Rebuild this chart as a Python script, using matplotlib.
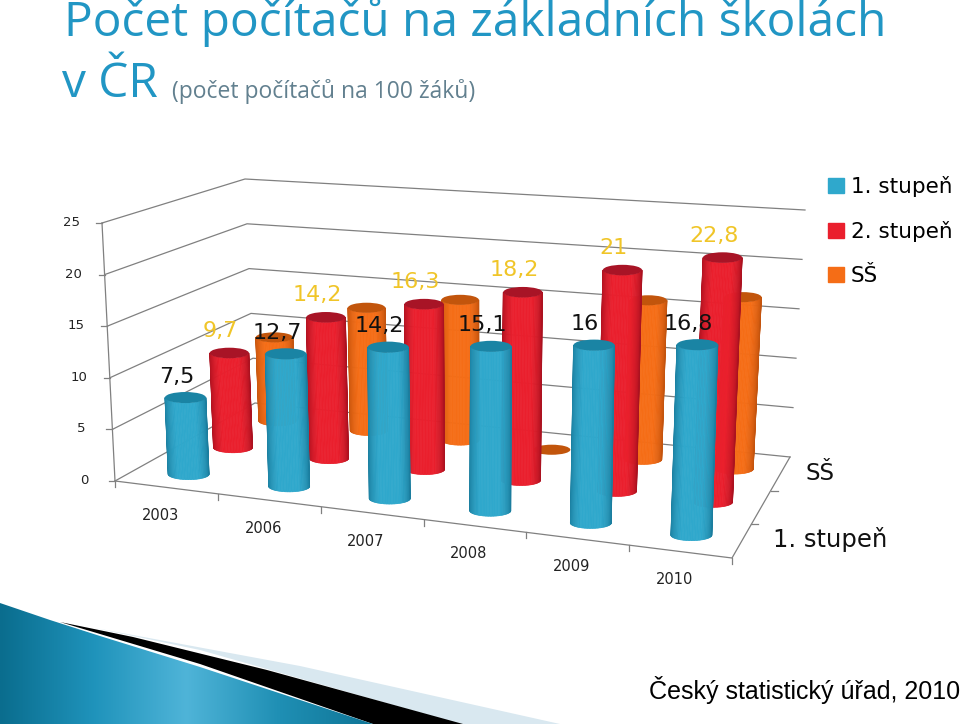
import matplotlib
matplotlib.use('Agg')
import matplotlib.pyplot as plt
import numpy as np
from matplotlib.collections import PolyCollection
from matplotlib.colors import LinearSegmentedColormap
from matplotlib.patches import Ellipse, Patch, Polygon

years = ['2003', '2006', '2007', '2008', '2009', '2010']
series_names = ['1. stupeň', '2. stupeň', 'SŠ']
first_grade = [7.5, 12.7, 14.2, 15.1, 16, 16.8]
second_grade = [9.7, 14.2, 16.3, 18.2, 21, 22.8]
high_school = [9, 13, 14.6, 0, 16, 17]
first_labels = ['7,5', '12,7', '14,2', '15,1', '16', '16,8']
second_labels = ['9,7', '14,2', '16,3', '18,2', '21', '22,8']
value_ticks = [0, 5, 10, 15, 20, 25]

colors = {
    'blue': ('#1b7d9e', '#2fa8cc', '#1a84a4'),
    'red': ('#ab1220', '#ea1f2d', '#a81426'),
    'orange': ('#c4540e', '#f56d16', '#c2550c'),
}

# corners of the 3d box in pixels: floor and the offset up to z=25
FL, FR = np.array([115., 481.]), np.array([732., 558.])
BL, BR = np.array([255., 403.]), np.array([790., 457.])
UP_FL, UP_FR = np.array([-13., -258.]), np.array([10., -294.])
UP_BL, UP_BR = np.array([-10., -224.]), np.array([15., -247.])


def project(u, v, z):
    floor = (1-v)*((1-u)*FL + u*FR) + v*((1-u)*BL + u*BR)
    up = (1-v)*((1-u)*UP_FL + u*UP_FR) + v*((1-u)*UP_BL + u*UP_BR)
    return floor + up*z/25.0


def cylinder(ax, i, row, value, cols, zorder):
    u = (i+0.5)/6
    v = (row+0.5)/3
    bx, by = project(u, v, 0)
    tx, ty = project(u, v, value)
    r = (project(u+0.034, v, 0)[0] - project(u-0.034, v, 0)[0])/2
    rb = 0.27*r
    if value > 0:
        cmap = LinearSegmentedColormap.from_list('c', [cols[0], cols[1], cols[1], cols[0]])
        th = np.linspace(np.pi, 0, 41)
        polys = []
        for a, b in zip(th[:-1], th[1:]):
            polys.append([(bx+r*np.cos(a), by+rb*np.sin(a)), (bx+r*np.cos(b), by+rb*np.sin(b)),
                          (tx+r*np.cos(b), ty+rb*np.sin(b)), (tx+r*np.cos(a), ty+rb*np.sin(a))])
        shade = cmap(np.linspace(0, 1, 40))
        ax.add_collection(PolyCollection(polys, facecolors=shade, edgecolors=shade, linewidths=0.5, zorder=zorder))
    ax.add_patch(Ellipse((tx, ty), 2*r, 2*rb, facecolor=cols[2], edgecolor='none', zorder=zorder+0.1))
    return tx, ty


fig = plt.figure(figsize=(9.6, 7.24), dpi=100)
ax = fig.add_axes([0, 0, 1, 1])
ax.set_xlim(0, 960)
ax.set_ylim(724, 0)
ax.axis('off')

# title
ax.text(64, 22, 'Počet počítačů na základních školách', family='Open Sans', fontsize=34.5,
        color='#2196c4', va='center', ha='left')
ax.text(62, 84, 'v ČR', family='Open Sans', fontsize=34.5, color='#2196c4', va='center', ha='left')
ax.text(172, 92, '(počet počítačů na 100 žáků)', family='Open Sans', fontsize=16.5, color='#62808f',
        va='center', ha='left')

# walls
grid = '#808080'
for z in value_ticks:
    pts = np.array([project(0, 0, z), project(0, 1, z), project(1, 1, z)])
    ax.plot(pts[:, 0], pts[:, 1], color=grid, lw=0.9, zorder=1)
    p = project(0, 0, z)
    ax.plot([p[0]-6, p[0]], [p[1], p[1]], color=grid, lw=0.9, zorder=1)
    ax.text(p[0]-31, p[1]-0.5, str(z), fontsize=9.5, color='#222222', ha='center', va='center')
edge = np.array([project(0, 0, 0), project(0, 0, 25)])
ax.plot(edge[:, 0], edge[:, 1], color=grid, lw=0.9, zorder=1)
edge = np.array([FL, FR, BR])
ax.plot(edge[:, 0], edge[:, 1], color=grid, lw=0.9, zorder=1)
for i in range(7):
    p = project(i/6, 0, 0)
    ax.plot([p[0], p[0]], [p[1], p[1]+6], color=grid, lw=0.9, zorder=1)
for k in range(1, 3):
    p = project(1, k/3, 0)
    ax.plot([p[0], p[0]+7], [p[1], p[1]], color=grid, lw=0.9, zorder=1)

for i, year in enumerate(years):
    p = project((i+0.5)/6, 0, 0)
    ax.text(p[0]-6, p[1]+28, year, fontsize=10.5, color='#222222', ha='center', va='center')
ax.text(820, 473, series_names[2], fontsize=16.5, color='#111111', ha='center', va='center')
ax.text(830, 540, series_names[0], fontsize=17.5, color='#111111', ha='center', va='center')

# columns, back row first
for i in range(6):
    cylinder(ax, i, 2, high_school[i], colors['orange'], 2+i*0.2)
for i in range(6):
    tx, ty = cylinder(ax, i, 1, second_grade[i], colors['red'], 4+i*0.2)
    ax.text(tx-9, ty-22, second_labels[i], fontsize=16, color='#f0c528', ha='center', va='center', zorder=8)
for i in range(6):
    tx, ty = cylinder(ax, i, 0, first_grade[i], colors['blue'], 6+i*0.2)
    ax.text(tx-9, ty-21, first_labels[i], fontsize=16, color='#111111', ha='center', va='center', zorder=9)

# legend
handles = [Patch(color=colors['blue'][1]), Patch(color=colors['red'][1]), Patch(color=colors['orange'][1])]
leg = ax.legend(handles, series_names, loc='upper left', bbox_to_anchor=(828/960, 1-176/724), frameon=False,
                borderaxespad=0, borderpad=0, fontsize=15.5, handlelength=0.72, handleheight=0.72,
                handletextpad=0.35, labelspacing=1.12)

# swoosh in the bottom corner
light = Polygon([(95, 628), (300, 666), (560, 724), (460, 724), (200, 650)], facecolor='#d9e8f0', edgecolor='none', zorder=1)
ax.add_patch(light)
black = Polygon([(60, 622), (133, 637), (267, 670), (463, 724), (373, 724), (200, 664)], facecolor='black', edgecolor='none', zorder=2)
ax.add_patch(black)
blue_shape = Polygon([(0, 603), (50, 620), (100, 636), (200, 667), (373, 724), (0, 724)], transform=ax.transData,
                     facecolor='none', edgecolor='none')
ax.add_patch(blue_shape)
swoosh = LinearSegmentedColormap.from_list('s', ['#0a6d8e', '#1f93bb', '#4fb4d8', '#1f8fb4', '#0f7596'])
img = ax.imshow(np.linspace(0, 1, 256).reshape(1, -1), cmap=swoosh, extent=(0, 373, 724, 603), aspect='auto', zorder=3)
img.set_clip_path(blue_shape)
ax.set_xlim(0, 960)
ax.set_ylim(724, 0)

ax.text(960, 690, 'Český statistický úřad, 2010', family='Liberation Sans', fontsize=18, color='black',
        ha='right', va='center')

plt.savefig('out.png', dpi=100)
